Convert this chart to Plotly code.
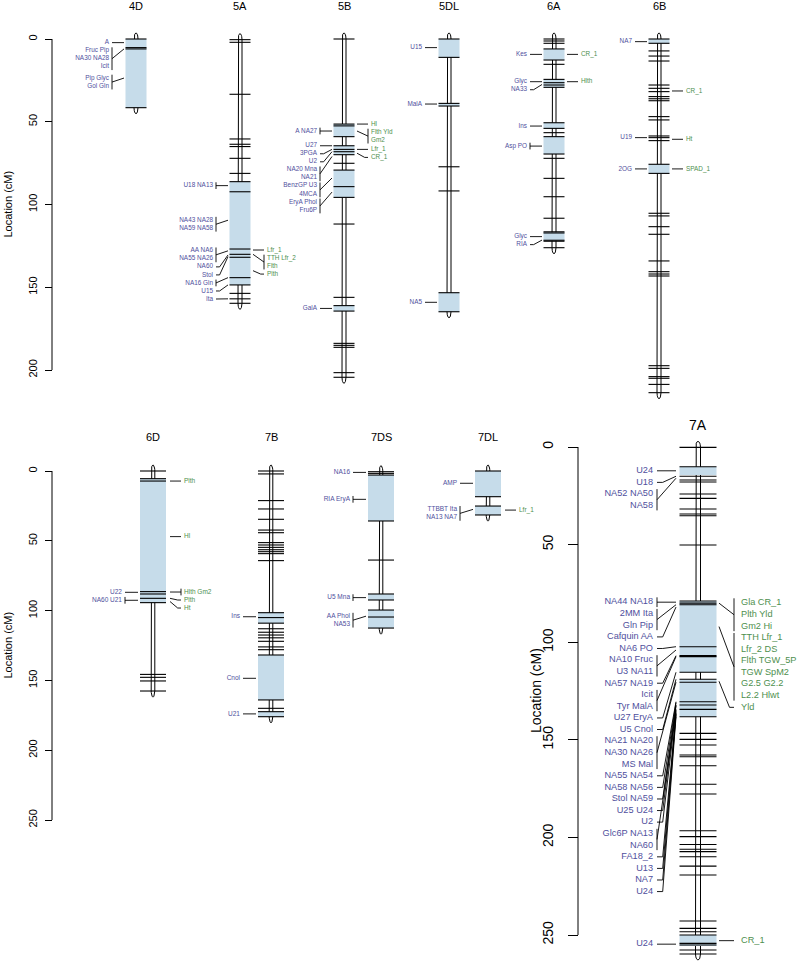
import math
import plotly.graph_objects as go

W, H = 797, 963

# ---------------- data (positions in cM) ----------------
top_names = ["4D", "5A", "5B", "5DL", "6A", "6B"]
bot_names = ["6D", "7B", "7DS", "7DL"]
big_names = ["7A"]

markers_4D = [0, 5.2, 6.0, 41.5]
shade_4D = [(0, 41.5)]
left_4D = [("A", 2.2), ("Fruc Pip/NA30 NA28/Icit", 6.0), ("Pip Glyc/Gol Gln", 23.6)]
right_4D = []

markers_5A = [0.4, 2.0, 33.4, 60.4, 63.6, 65.0, 72.1, 81.2, 86.2, 92.3, 126.9, 130.1,
              131.9, 144.2, 148.6, 153.7, 157.0, 159.7]
shade_5A = [(86.2, 148.6)]
left_5A = [("U18 NA13", 88.6), ("NA43 NA28/NA59 NA58", 109.5), ("AA NA6/NA55 NA26", 128.0),
           ("NA60", 130.5), ("Stol", 131.5), ("NA16 Gln", 144.2), ("U15", 148.6), ("Ita", 157.0)]
right_5A = [("Lfr_1", 127.5), ("TTH Lfr_2/Flth", 130.1), ("Plth", 140.0)]

markers_5B = [0, 51.4, 52.5, 59.0, 64.5, 66.7, 68.1, 69.9, 75.1, 79.2, 89.2, 95.7, 111.8,
              156.1, 161.1, 164.4, 183.9, 185.1, 186.3, 201.6, 204.4]
shade_5B = [(51.4, 59.0), (64.5, 69.9), (79.2, 95.7), (161.1, 164.4)]
left_5B = [("A NA27", 55.6), ("U27", 64.5), ("3PGA", 66.7), ("U2", 68.1), ("NA20 Mna/NA21", 71.0),
           ("BenzGP U3/4MCA", 84.0), ("EryA Phol/Fru6P", 92.5), ("GalA", 162.8)]
right_5B = [("Hl", 51.4), ("Flth Yld/Gm2", 55.6), ("Lfr_1", 66.7), ("CR_1", 69.0)]

markers_5DL = [0, 11.1, 38.9, 40.5, 77.2, 91.8, 153.3, 164.8]
shade_5DL = [(0, 11.1), (38.9, 40.5), (153.3, 164.8)]
left_5DL = [("U15", 5.2), ("MalA", 39.3), ("NA5", 159.1)]
right_5DL = []

markers_6A = [0, 1.2, 2.6, 6.0, 12.7, 15.3, 24.4, 26.4, 27.8, 29.2, 50.6, 54.0, 56.6, 59.0,
              69.5, 72.1, 84.2, 95.3, 108.3, 116.5, 117.2, 121.6, 122.2, 126.1]
shade_6A = [(6.0, 12.7), (24.4, 29.2), (50.6, 54.0), (59.0, 69.5), (116.8, 121.9)]
left_6A = [("Kes", 9.3), ("Glyc", 25.8), ("NA33", 27.5), ("Ins", 52.6), ("Asp PO", 64.7),
           ("Glyc", 119.4), ("RIA", 121.5)]
right_6A = [("CR_1", 9.3), ("Hlth", 25.8)]

markers_6B = [0, 2.6, 7.2, 10.3, 13.3, 27.8, 29.8, 31.8, 34.8, 36.1, 37.3, 46.9, 48.9, 58.6,
              59.6, 61.4, 75.7, 81.2, 105.3, 106.9, 113.4, 118.0, 134.1, 140.6, 142.0, 143.2,
              197.4, 199.0, 204.0, 205.0, 208.7, 213.7]
shade_6B = [(0, 2.6), (75.7, 81.2)]
left_6B = [("NA7", 1.6), ("U19", 59.6), ("2OG", 78.5)]
right_6B = [("CR_1", 31.4), ("Ht", 60.6), ("SPAD_1", 78.5)]

markers_6D = [0, 5.5, 7.2, 86.4, 88.1, 91.2, 94.3, 145.7, 147.8, 150.4, 157.6]
shade_6D = [(5.5, 94.3)]
left_6D = [("U22", 86.9), ("NA60 U21", 92.6)]
right_6D = [("Plth", 7.2), ("Hl", 47.0), ("Hlth Gm2", 86.7), ("Plth", 91.2), ("Ht", 93.5)]

markers_7B = [0, 2.1, 21.2, 27.2, 34.6, 42.3, 44.2, 51.3, 53.0, 54.7, 56.4, 57.8, 59.2, 64.2,
              101.5, 105.0, 109.0, 113.0, 115.5, 117.5, 119.5, 122.0, 126.0, 128.0, 131.8,
              164.0, 170.0, 172.4, 176.0]
shade_7B = [(101.5, 109.0), (131.8, 164.0), (172.4, 176.0)]
left_7B = [("Ins", 104.4), ("Cnol", 148.5), ("U21", 174.0)]
right_7B = []

markers_7DS = [0.5, 1.7, 2.9, 35.8, 63.8, 88.1, 92.4, 99.6, 104.6, 112.5]
shade_7DS = [(2.9, 35.8), (88.1, 92.4), (99.6, 112.5)]
left_7DS = [("NA16", 1.0), ("RIA EryA", 20.3), ("U5 Mna", 90.7), ("AA Phol/NA53", 104.0)]
right_7DS = []

markers_7DL = [0, 18.4, 25.1, 31.5]
shade_7DL = [(0, 18.4), (25.1, 31.5)]
left_7DL = [("AMP", 8.8), ("TTBBT Ita/NA13 NA7", 27.5)]
right_7DL = [("Lfr_1", 28.0)]

markers_7A = [0.2, 10.1, 15.0, 16.9, 17.9, 24.1, 26.3, 31.8, 34.3, 35.2, 50.2, 78.9, 80.0,
              80.8, 102.3, 106.9, 107.4, 115.4, 119.0, 120.5, 130.5, 132.2, 134.4, 138.2,
              146.7, 149.8, 152.7, 157.8, 158.7, 163.3, 172.8, 177.8, 196.6, 199.6, 203.6,
              206.1, 207.3, 209.9, 214.7, 219.3, 242.8, 246.6, 248.3, 250.0, 254.3, 255.1,
              257.7, 259.7]
shade_7A = [(10.1, 14.4), (78.9, 115.4), (119.0, 138.2), (250.0, 255.6)]
left_7A = [("U24", 12.2), ("U18", 15.0), ("NA52 NA50/NA58", 16.0), ("NA44 NA18", 79.5),
           ("2MM Ita/Gln Pip", 80.8), ("Cafquin AA", 82.0), ("NA6 PO", 102.3),
           ("NA10 Fruc/U3 NA11", 104.0), ("NA57 NA19", 106.9), ("Icit/Tyr MalA", 107.4),
           ("U27 EryA", 115.4), ("U5 Cnol", 119.0), ("NA21 NA20/NA30 NA26/MS Mal", 120.5),
           ("NA55 NA54", 130.5), ("NA58 NA56", 131.0), ("Stol NA59", 132.2), ("U25 U24", 132.5),
           ("U2", 134.4), ("Glc6P NA13/NA60", 135.0), ("FA18_2", 136.0), ("U13", 136.5),
           ("NA7", 137.0), ("U24", 138.2), ("U24", 254.7)]
right_7A = [("Gla CR_1/Plth Yld/Gm2 Hi", 80.0),
            ("TTH Lfr_1/Lfr_2 DS/Flth TGW_5P/TGW SpM2/G2.5 G2.2/L2.2 Hlwt", 92.0),
            ("Yld", 120.0), ("CR_1", 252.9)]

bracket_single = {"U18 NA13", "NA16 Gln", "A NA27", "Asp PO", "NA60 U21", "Hlth Gm2",
                  "RIA EryA", "U5 Mna", "NA44 NA18"}

CHROMS = {
    "4D": (markers_4D, shade_4D, left_4D, right_4D),
    "5A": (markers_5A, shade_5A, left_5A, right_5A),
    "5B": (markers_5B, shade_5B, left_5B, right_5B),
    "5DL": (markers_5DL, shade_5DL, left_5DL, right_5DL),
    "6A": (markers_6A, shade_6A, left_6A, right_6A),
    "6B": (markers_6B, shade_6B, left_6B, right_6B),
    "6D": (markers_6D, shade_6D, left_6D, right_6D),
    "7B": (markers_7B, shade_7B, left_7B, right_7B),
    "7DS": (markers_7DS, shade_7DS, left_7DS, right_7DS),
    "7DL": (markers_7DL, shade_7DL, left_7DL, right_7DL),
    "7A": (markers_7A, shade_7A, left_7A, right_7A),
}

# ---------------- layout / style (page pixels) ----------------
FONT = "Liberation Sans, Arial, sans-serif"
SHADE = "#c6dcea"
LCOL = "#4f4f9d"
RCOL = "#4e8f4e"

ROWS = [
    dict(names=top_names, xa="x", ya="y", y0px=39, s=1.655, p0=18, p1=410,
         cx=[136, 240, 344, 449, 554, 659], half=10.5, body=2.0, cap=6, gap=4.85, fs=6.4,
         Lt=27, Lb=24, Le=12, Re=13, Rb=24, Rt=27, axis_x=52, ymax=200, ticklen=7,
         tickfs=11, stand=4, title_y=6, title_fs=11, ytitle_x=7, ytitle_fs=11),
    dict(names=bot_names, xa="x2", ya="y2", y0px=471, s=1.396, p0=452, p1=835,
         cx=[153, 271, 381, 488], half=13, body=1.8, cap=6, gap=5.73, fs=6.5,
         Lt=31, Lb=28, Le=15, Re=17, Rb=28, Rt=31, axis_x=52, ymax=250, ticklen=7,
         tickfs=11, stand=4, title_y=437, title_fs=11, ytitle_x=7, ytitle_fs=11),
    dict(names=big_names, xa="x3", ya="y3", y0px=447, s=1.952, p0=433, p1=963,
         cx=[698], half=18.5, body=2.5, cap=6, gap=5.93, fs=9.2,
         Lt=45, Lb=41, Le=22, Re=21, Rb=36, Rt=43, axis_x=578, ymax=250, ticklen=10,
         tickfs=14, stand=9, title_y=425, title_fs=14, ytitle_x=536, ytitle_fs=14),
]


def px_x(p):
    return p / W


def px_y(p):
    return 1 - p / H


def place(groups, gap):
    out = []
    prev = -1e9
    for text, tgt in sorted(groups, key=lambda g: g[1]):
        rows = text.split("/")
        first = max(tgt, prev + gap)
        ys = [first + k * gap for k in range(len(rows))]
        prev = ys[-1]
        out.append((text, rows, ys, tgt))
    return out


fig = go.Figure()
annotations = []
layout_axes = {}

for ri, R in enumerate(ROWS):
    xa, ya = R["xa"], R["ya"]
    capc = R["cap"] / R["s"]
    body_x, body_y = [], []
    sh_x, sh_y = [], []
    tk_x, tk_y = [], []
    cn_x, cn_y = [], []
    lt_x, lt_y, lt_t = [], [], []
    rt_x, rt_y, rt_t = [], [], []
    for name, c in zip(R["names"], R["cx"]):
        mk, sh, L, Rl = CHROMS[name]
        a, b = min(mk), max(mk)
        bw = R["body"]
        pts = [(c - bw, b), (c - bw, a)]
        for k in range(1, 12):
            t = math.pi * k / 12
            pts.append((c - bw * math.cos(t), a - capc * math.sin(t)))
        pts += [(c + bw, a), (c + bw, b)]
        for k in range(1, 12):
            t = math.pi * k / 12
            pts.append((c + bw * math.cos(t), b + capc * math.sin(t)))
        pts.append((c - bw, b))
        body_x += [p[0] for p in pts] + [None]
        body_y += [p[1] for p in pts] + [None]
        for s0, s1 in sh:
            sh_x += [c - R["half"], c + R["half"], c + R["half"], c - R["half"], c - R["half"], None]
            sh_y += [s0, s0, s1, s1, s0, None]
        for m in mk:
            tk_x += [c - R["half"], c + R["half"], None]
            tk_y += [m, m, None]
        for side, groups in (("L", L), ("R", Rl)):
            sgn = -1 if side == "L" else 1
            xt = c + sgn * R[side + "t"]
            xb = c + sgn * R[side + "b"]
            xe = c + sgn * R[side + "e"]
            for text, rows, ys, tgt in place(groups, R["gap"]):
                for rt, yy in zip(rows, ys):
                    if side == "L":
                        lt_x.append(xt); lt_y.append(yy); lt_t.append(rt)
                    else:
                        rt_x.append(xt); rt_y.append(yy); rt_t.append(rt)
                mid = (ys[0] + ys[-1]) / 2
                if len(rows) > 1 or text in bracket_single:
                    cn_x += [xb, xb, None]
                    cn_y += [ys[0] - 0.42 * R["gap"], ys[-1] + 0.42 * R["gap"], None]
                    cn_x += [xb, xe, None]
                    cn_y += [mid, tgt, None]
                else:
                    xd = xb + (xe - xb) * 0.3
                    cn_x += [xb, xd, xe, None]
                    cn_y += [mid, mid, tgt, None]
    common = dict(xaxis=xa, yaxis=ya, hoverinfo="skip", showlegend=False)
    fig.add_trace(go.Scatter(x=[R["axis_x"], R["axis_x"]], y=[0, R["ymax"]], mode="lines",
                             line=dict(color="black", width=1), **common))
    fig.add_trace(go.Scatter(x=body_x, y=body_y, mode="lines",
                             line=dict(color="black", width=1), **common))
    fig.add_trace(go.Scatter(x=sh_x, y=sh_y, mode="lines", fill="toself", fillcolor=SHADE,
                             line=dict(width=0, color=SHADE), **common))
    fig.add_trace(go.Scatter(x=tk_x, y=tk_y, mode="lines",
                             line=dict(color="black", width=1.1), **common))
    fig.add_trace(go.Scatter(x=cn_x, y=cn_y, mode="lines",
                             line=dict(color="black", width=0.9), **common))
    fig.add_trace(go.Scatter(x=lt_x, y=lt_y, text=lt_t, mode="text", textposition="middle left",
                             textfont=dict(family=FONT, size=R["fs"], color=LCOL), **common))
    fig.add_trace(go.Scatter(x=rt_x, y=rt_y, text=rt_t, mode="text", textposition="middle right",
                             textfont=dict(family=FONT, size=R["fs"], color=RCOL), **common))

    sfx = "" if ri == 0 else str(ri + 1)
    rng = [(R["p1"] - R["y0px"]) / R["s"], (R["p0"] - R["y0px"]) / R["s"]]
    layout_axes["xaxis" + sfx] = dict(domain=[0, 1], range=[0, W], visible=False,
                                      anchor=ya, fixedrange=True)
    layout_axes["yaxis" + sfx] = dict(domain=[px_y(R["p1"]), px_y(R["p0"])], range=rng,
                                      anchor="free", position=px_x(R["axis_x"]),
                                      showgrid=False, zeroline=False, showline=False,
                                      ticks="outside", ticklen=R["ticklen"], tickwidth=1,
                                      tickcolor="black", tick0=0, dtick=50, tickangle=-90,
                                      ticklabelstandoff=R["stand"], fixedrange=True,
                                      tickfont=dict(family=FONT, size=R["tickfs"], color="black"))
    for name, c in zip(R["names"], R["cx"]):
        annotations.append(dict(text=name, x=px_x(c), y=px_y(R["title_y"]), xref="paper",
                                yref="paper", showarrow=False, xanchor="center", yanchor="middle",
                                font=dict(family=FONT, size=R["title_fs"], color="black")))
    annotations.append(dict(text="Location (cM)", x=px_x(R["ytitle_x"]),
                            y=px_y(R["y0px"] + R["s"] * R["ymax"] / 2),
                            xref="paper", yref="paper", showarrow=False, textangle=-90,
                            xanchor="center", yanchor="middle",
                            font=dict(family=FONT, size=R["ytitle_fs"], color="black")))

fig.update_layout(width=W, height=H, margin=dict(l=0, r=0, t=0, b=0),
                  paper_bgcolor="white", plot_bgcolor="rgba(0,0,0,0)",
                  annotations=annotations, showlegend=False, hovermode=False, **layout_axes)
fig.write_html("out.html", config={"displayModeBar": False},
               post_script="document.body.style.margin='0';")
